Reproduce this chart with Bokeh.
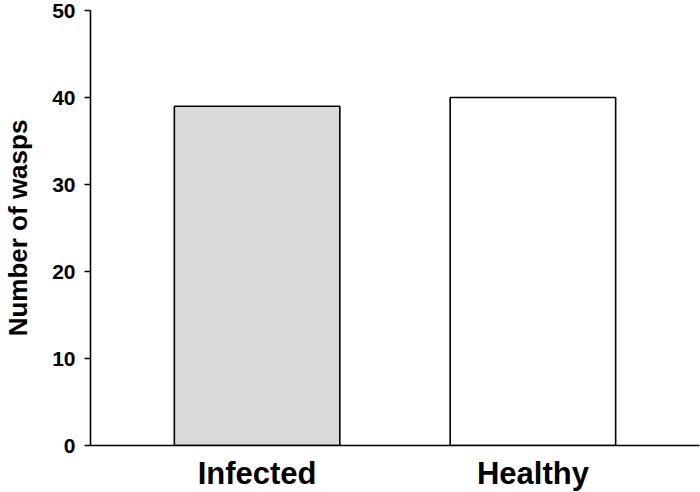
from bokeh.plotting import figure
from bokeh.models import FactorRange, Range1d, ColumnDataSource
from bokeh.embed import file_html
from bokeh.resources import INLINE

categories = ["Infected", "Healthy"]
wasps = [39, 40]
fills = ["#d9d9d9", "#ffffff"]
y_ticks = [0, 10, 20, 30, 40, 50]

src = ColumnDataSource(dict(cat=categories, val=wasps, fill=fills))

p = figure(frame_width=609, frame_height=435, output_backend="svg", toolbar_location=None,
           x_range=FactorRange(factors=categories, range_padding=0.104),
           y_range=Range1d(0, 50),
           min_border_left=89, min_border_top=10, min_border_right=2, min_border_bottom=31)

p.vbar(x="cat", top="val", width=0.6, source=src, fill_color="fill",
       line_color="black", line_width=1.6)

p.outline_line_color = None
p.xgrid.visible = False
p.ygrid.visible = False
p.background_fill_color = "white"
p.border_fill_color = "white"

FONT = "Liberation Sans"
p.yaxis.ticker = y_ticks
p.yaxis.axis_line_width = 1.6
p.yaxis.axis_line_color = "black"
p.yaxis.major_tick_line_width = 1.6
p.yaxis.major_tick_out = 6
p.yaxis.major_tick_in = 0
p.yaxis.minor_tick_line_color = None
p.yaxis.major_label_text_font = FONT
p.yaxis.major_label_text_font_style = "bold"
p.yaxis.major_label_text_font_size = "21px"
p.yaxis.major_label_text_color = "black"
p.yaxis.major_label_standoff = 9
p.yaxis.axis_label = "Number of wasps"
p.yaxis.axis_label_text_font = FONT
p.yaxis.axis_label_text_font_style = "bold"
p.yaxis.axis_label_text_font_size = "26px"
p.yaxis.axis_label_text_color = "black"
p.yaxis.axis_label_standoff = 16

p.xaxis.axis_line_width = 1.6
p.xaxis.axis_line_color = "black"
p.xaxis.major_tick_line_color = None
p.xaxis.minor_tick_line_color = None
p.xaxis.major_label_text_font = FONT
p.xaxis.major_label_text_font_style = "bold"
p.xaxis.major_label_text_font_size = "31px"
p.xaxis.major_label_text_color = "black"
p.xaxis.major_label_standoff = 4

open("out.html", "w").write(file_html(p, INLINE))
